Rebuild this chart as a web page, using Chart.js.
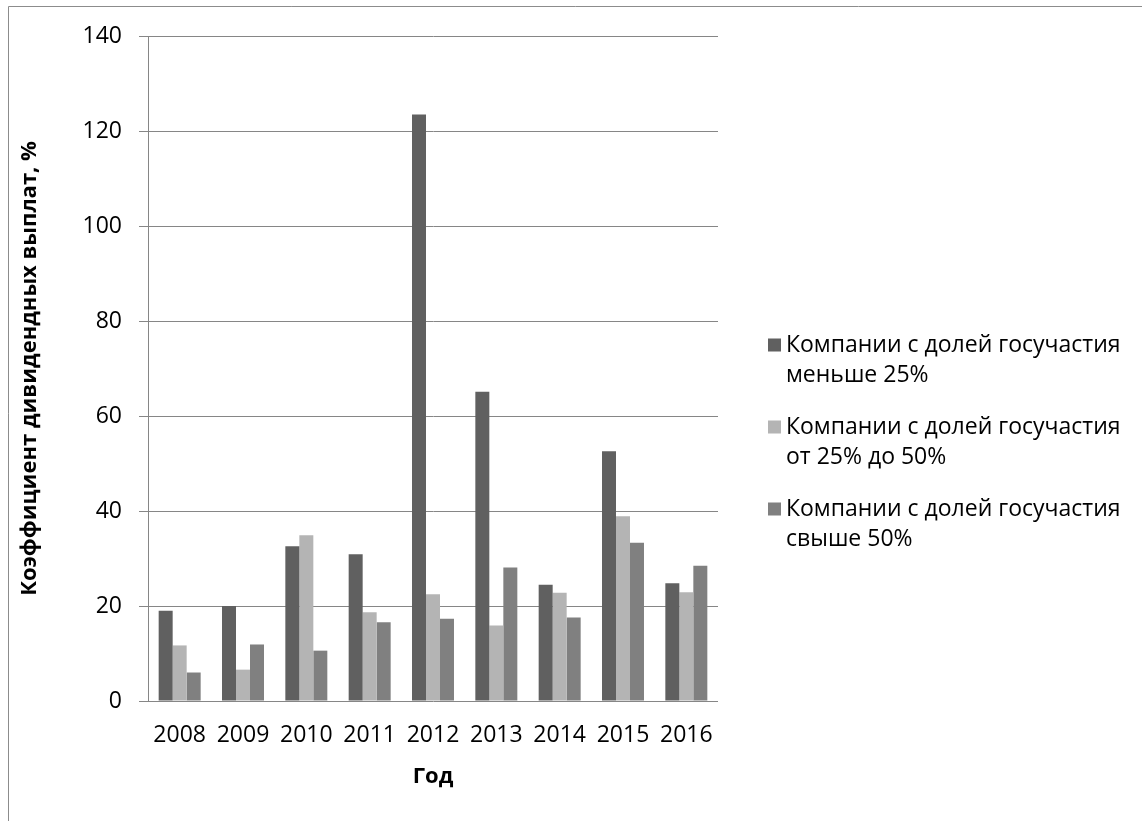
<!DOCTYPE html>
<html>
<head>
<meta charset="utf-8">
<script src="https://cdn.jsdelivr.net/npm/chart.js@4.4.0/dist/chart.umd.min.js"></script>
<style>
  html, body { margin: 0; padding: 0; background: #fff; }
  #wrap { width: 1142px; height: 821px; position: relative; }
</style>
</head>
<body>
<div id="wrap"><canvas id="c" width="1142" height="821"></canvas></div>
<script>
// Dividend payout ratio by year and state-ownership group
const years = ['2008', '2009', '2010', '2011', '2012', '2013', '2014', '2015', '2016'];
const below25 = [19.0, 20.0, 32.6, 30.9, 123.5, 65.1, 24.5, 52.6, 24.8];
const from25to50 = [11.7, 6.6, 34.9, 18.7, 22.5, 15.9, 22.8, 38.9, 22.9];
const above50 = [6.0, 11.9, 10.6, 16.6, 17.3, 28.1, 17.6, 33.3, 28.5];

const seriesLines = [
  ['Компании с долей госучастия', 'меньше 25%'],
  ['Компании с долей госучастия', 'от 25% до 50%'],
  ['Компании с долей госучастия', 'свыше 50%']
];
const seriesColors = ['#606060', '#b4b4b4', '#808080'];
const yTitle = 'Коэффициент дивидендных выплат, %';
const xTitle = 'Год';

const FONT = '"Open Sans", "Noto Sans", sans-serif';
const GRID = '#868686';

// white page with the thin frame along the left and top edges
const framePlugin = {
  id: 'frame',
  beforeDraw(chart) {
    const ctx = chart.ctx;
    ctx.save();
    ctx.fillStyle = '#fff';
    ctx.fillRect(0, 0, chart.width, chart.height);
    ctx.strokeStyle = '#8c8c8c';
    ctx.lineWidth = 1;
    ctx.beginPath();
    ctx.moveTo(8.5, chart.height);
    ctx.lineTo(8.5, 6.5);
    ctx.lineTo(chart.width, 6.5);
    ctx.stroke();
    ctx.restore();
  }
};

// legend on the right with two-line entries
const sideLegend = {
  id: 'sideLegend',
  afterDraw(chart) {
    const ctx = chart.ctx;
    ctx.save();
    ctx.font = '23px ' + FONT;
    ctx.textBaseline = 'middle';
    ctx.textAlign = 'left';
    const x0 = 768, textX = 786, firstY = 345, step = 82, lineGap = 30;
    chart.data.datasets.forEach((ds, i) => {
      const y = firstY + i * step;
      ctx.fillStyle = ds.backgroundColor;
      ctx.fillRect(x0, y - 6.5, 13, 13);
      ctx.fillStyle = '#000';
      seriesLines[i].forEach((line, j) => ctx.fillText(line, textX, y + j * lineGap));
    });
    ctx.restore();
  }
};

new Chart(document.getElementById('c'), {
  type: 'bar',
  data: {
    labels: years,
    datasets: [below25, from25to50, above50].map((vals, i) => ({
      label: seriesLines[i].join(' '),
      data: vals,
      backgroundColor: seriesColors[i],
      borderWidth: 0,
      categoryPercentage: 0.663,
      barPercentage: 1.0
    }))
  },
  options: {
    responsive: false,
    animation: false,
    devicePixelRatio: 1,
    layout: { padding: { left: 0, top: 36, right: 424, bottom: 0 } },
    plugins: { legend: { display: false }, tooltip: { enabled: false } },
    scales: {
      x: {
        grid: { display: false, drawTicks: false },
        border: { display: false },
        ticks: { color: '#000', font: { family: FONT, size: 23 }, padding: 21, maxRotation: 0 },
        title: { display: true, text: xTitle, color: '#000',
                 font: { family: FONT, size: 22, weight: 'bold' }, padding: { top: 0, bottom: 31 } },
        afterFit(scale) { scale.height = 120; }
      },
      y: {
        min: 0, max: 140,
        ticks: { stepSize: 20, color: '#000', font: { family: FONT, size: 23 }, padding: 17 },
        grid: { color: GRID, lineWidth: 1, tickLength: 9, tickColor: GRID },
        border: { display: true, color: GRID, width: 1 },
        title: { display: true, text: yTitle, color: '#000',
                 font: { family: FONT, size: 22, weight: 'bold' }, padding: { top: 17, bottom: 0 } },
        afterFit(scale) { scale.width = 148; }
      }
    }
  },
  plugins: [framePlugin, sideLegend]
});
</script>
</body>
</html>
